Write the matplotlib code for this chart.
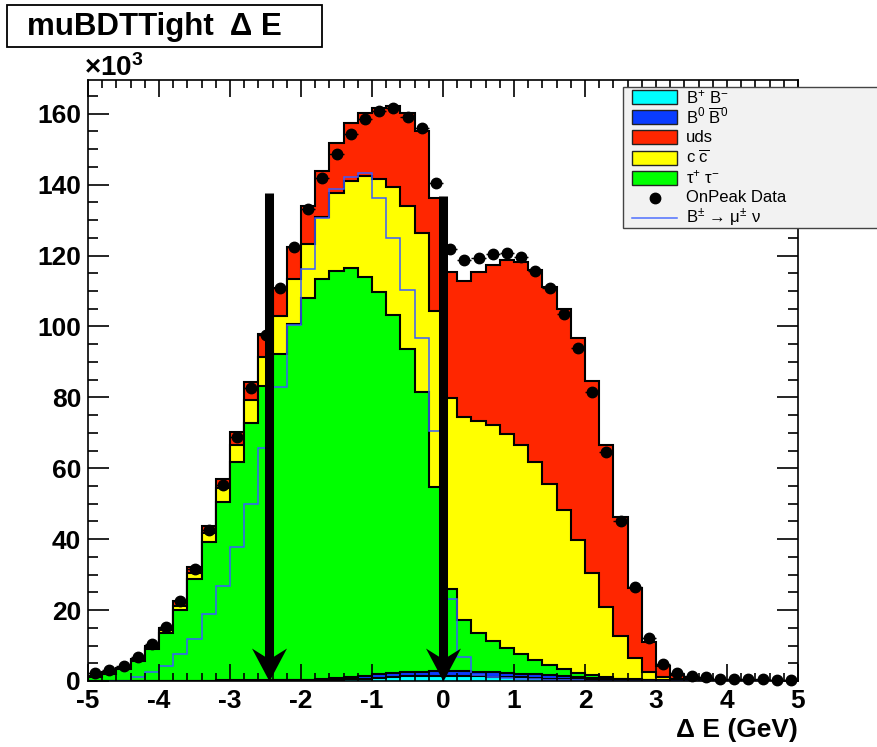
import numpy as np
import matplotlib
matplotlib.use("Agg")
import matplotlib.pyplot as plt
from matplotlib.patches import Rectangle
from matplotlib.lines import Line2D
from matplotlib.path import Path
from matplotlib.ticker import MultipleLocator

# ------------------------------------------------------------------
# muBDTTight selection, Delta E distribution (units of 10^3 events)
# 50 bins of 0.2 GeV between -5 and 5 GeV
# ------------------------------------------------------------------
DE_MIN, DE_MAX, N_BINS = -5.0, 5.0, 50

# stack components, bottom to top
bb_charged = [0.0, 0.0, 0.0, 0.0, 0.02, 0.03, 0.04, 0.05, 0.06, 0.07, 0.08, 0.10,
              0.12, 0.15, 0.18, 0.20, 0.30, 0.40, 0.50, 0.65, 0.90, 1.10, 1.30, 1.40, 1.50,
              1.50, 1.50, 1.40, 1.20, 1.10, 1.00, 0.80, 0.70, 0.60, 0.50, 0.40, 0.30, 0.20,
              0.15, 0.10, 0.05, 0.03, 0.02, 0.01, 0.01, 0.01, 0.0, 0.0, 0.0, 0.0]
bb_neutral = [0.0, 0.0, 0.0, 0.02, 0.02, 0.03, 0.04, 0.05, 0.06, 0.08, 0.10, 0.10,
              0.13, 0.15, 0.17, 0.20, 0.30, 0.45, 0.60, 0.85, 1.00, 1.10, 1.20, 1.20, 1.30,
              1.40, 1.30, 1.20, 1.30, 1.20, 1.10, 1.10, 0.90, 0.70, 0.60, 0.50, 0.40, 0.30,
              0.20, 0.10, 0.07, 0.05, 0.03, 0.02, 0.02, 0.02, 0.01, 0.01, 0.01, 0.01]
tautau = [1.2, 2.1, 3.4, 5.5, 8.9, 13.6, 19.9, 28.6, 39.0, 50.3, 61.5, 72.7,
          83.0, 92.0, 100.2, 107.6, 112.7, 114.9, 115.3, 112.4, 107.7, 101.0, 91.1, 79.0, 51.9,
          23.0, 14.4, 10.9, 8.9, 6.9, 5.6, 4.1, 3.0, 2.1, 1.2, 0.7, 0.4, 0.2,
          0.15, 0.10, 0.08, 0.05, 0.03, 0.02, 0.02, 0.01, 0.01, 0.01, 0.01, 0.01]
ccbar = [0.1, 0.2, 0.2, 0.4, 0.5, 0.6, 1.3, 1.9, 2.7, 4.0, 5.0, 6.4,
         8.2, 10.6, 12.7, 15.3, 17.7, 21.9, 24.5, 28.4, 31.9, 36.0, 40.4, 44.7, 49.7,
         53.9, 57.2, 59.8, 60.8, 60.6, 58.9, 55.7, 50.9, 44.7, 37.5, 28.8, 19.9, 11.9,
         5.9, 2.3, 0.8, 0.3, 0.1, 0.05, 0.03, 0.02, 0.01, 0.01, 0.01, 0.01]
uds = [0.1, 0.2, 0.2, 0.4, 0.4, 0.8, 1.2, 1.5, 2.0, 2.4, 3.6, 5.0,
       6.3, 8.0, 9.2, 10.7, 12.7, 14.1, 16.4, 17.9, 20.2, 23.1, 26.2, 28.9, 31.8,
       35.5, 38.5, 42.0, 45.2, 48.8, 51.6, 54.1, 55.7, 56.8, 57.0, 54.2, 45.7, 33.7,
       19.9, 8.3, 3.1, 1.2, 0.6, 0.4, 0.25, 0.15, 0.10, 0.08, 0.06, 0.05]

onpeak = [2.2, 3.1, 4.3, 6.9, 10.3, 15.3, 22.5, 31.5, 42.5, 55.2, 68.8, 82.6,
          97.7, 110.9, 122.4, 133.1, 142.0, 148.7, 154.3, 158.6, 160.7, 161.5, 159.2, 156.1, 140.4,
          121.8, 118.8, 119.4, 120.4, 120.8, 119.6, 115.7, 110.8, 103.5, 93.8, 81.6, 64.5, 45.0,
          26.4, 12.1, 4.9, 2.2, 1.4, 1.0, 0.7, 0.6, 0.5, 0.5, 0.4, 0.4]

# B -> mu nu signal, arbitrary normalisation
signal = [0.0, 0.0, 0.1, 1.0, 2.4, 4.3, 7.5, 11.8, 18.8, 26.8, 37.8, 49.9,
          65.6, 82.9, 100.5, 116.3, 130.5, 138.7, 142.2, 143.2, 136.1, 124.8, 110.3, 96.6, 70.4,
          23.0, 6.8, 1.8, 1.2, 0.9, 0.7, 0.5, 0.4, 0.3, 0.2, 0.1, 0.1, 0.05,
          0.0, 0.0, 0.0, 0.0, 0.0, 0.0, 0.0, 0.0, 0.0, 0.0, 0.0, 0.0]

# signal window cuts drawn as arrows
cut_values = [-2.45, 0.0]
cut_arrow_tops = [137.6, 136.8]

C_CYAN, C_BLUE, C_GREEN, C_YELLOW, C_RED = "#00ffff", "#0a3cff", "#00ff00", "#ffff00", "#ff2600"
C_SIG = "#3a5cff"

plt.rcParams["font.family"] = ["Liberation Sans", "DejaVu Sans"]
plt.rcParams["mathtext.fontset"] = "custom"
plt.rcParams["mathtext.rm"] = "Liberation Sans"
plt.rcParams["mathtext.it"] = "Liberation Sans:italic"
plt.rcParams["mathtext.bf"] = "Liberation Sans:bold"
plt.rcParams["axes.unicode_minus"] = False

W, H = 877, 747


def fx(px):
    return px / W


def fy(py):
    return 1 - py / H


fig = plt.figure(figsize=(W / 100, H / 100), dpi=100)
ax = fig.add_axes([fx(88), fy(681), fx(798) - fx(88), fy(80) - fy(681)])

edges = np.linspace(DE_MIN, DE_MAX, N_BINS + 1)
centers = 0.5 * (edges[1:] + edges[:-1])

components = np.vstack([bb_charged, bb_neutral, tautau, ccbar, uds])
colors = [C_CYAN, C_BLUE, C_GREEN, C_YELLOW, C_RED]
tops = np.cumsum(components, axis=0)

# THStack style: draw the cumulative histograms from the top down
for top, col in reversed(list(zip(tops, colors))):
    ax.stairs(top, edges, baseline=0, fill=True, facecolor=col,
              edgecolor="black", linewidth=1.5)

ax.stairs(signal, edges, baseline=None, color=C_SIG, linewidth=1.1)

data = np.array(onpeak)
ax.errorbar(centers, data, xerr=0.1, yerr=np.sqrt(data * 1000) / 1000,
            fmt="o", color="black", ms=7.5, elinewidth=1.0, capsize=0,
            zorder=5, clip_on=False)

# arrows marking the Delta E cut
head = Path([(0, 0), (-17.5, 33), (0, 22), (17.5, 33), (0, 0)],
            [Path.MOVETO, Path.LINETO, Path.LINETO, Path.LINETO, Path.CLOSEPOLY])
for xc, yt in zip(cut_values, cut_arrow_tops):
    ax.plot([xc, xc], [yt, 5.6], color="black", lw=6.5, solid_capstyle="butt", zorder=6)
    ax.plot([xc], [0], marker=head, ms=47.5, color="black", mew=0, ls="none",
            zorder=6, clip_on=False)

ax.set_xlim(DE_MIN, DE_MAX)
ax.set_ylim(0, 169.5)
ax.xaxis.set_major_locator(MultipleLocator(1))
ax.xaxis.set_minor_locator(MultipleLocator(0.2))
ax.yaxis.set_major_locator(MultipleLocator(20))
ax.yaxis.set_minor_locator(MultipleLocator(5))
ax.tick_params(which="both", direction="in", top=True, right=True, width=1.2)
ax.tick_params(axis="x", which="major", length=12, pad=6)
ax.tick_params(axis="x", which="minor", length=6)
ax.tick_params(axis="y", which="major", length=15, pad=5)
ax.tick_params(axis="y", which="minor", length=7.5)
for lab in ax.get_xticklabels() + ax.get_yticklabels():
    lab.set_fontsize(19)
    lab.set_fontweight("bold")
for sp in ax.spines.values():
    sp.set_linewidth(1.2)

ax.set_xlabel("Δ E (GeV)", loc="right", fontsize=19, fontweight="bold", labelpad=3)
fig.text(fx(84), fy(76), "×10$^{\\mathbf{3}}$", fontsize=20, fontweight="bold", va="baseline")

# title box
fig.patches.append(Rectangle((fx(7), fy(47)), fx(322) - fx(7), fy(5) - fy(47),
                             transform=fig.transFigure, facecolor="white",
                             edgecolor="black", lw=1.3))
fig.text(fx(27), fy(27), "muBDTTight  Δ E", fontsize=22.5, fontweight="bold",
         va="center", ha="left")

# legend box
fig.patches.append(Rectangle((fx(623), fy(228)), fx(880) - fx(623), fy(87) - fy(228),
                             transform=fig.transFigure, facecolor="#f2f2f2",
                             edgecolor="#444444", lw=1.0, zorder=10))
legend_labels = ["B$^{+}$ B$^{-}$", "B$^{0}$ $\\overline{\\mathrm{B}}^{0}$", "uds",
                 "c $\\overline{\\mathrm{c}}$", "τ$^{+}$ τ$^{-}$", "OnPeak Data",
                 "B$^{\\pm}$ → μ$^{\\pm}$ ν"]
legend_fills = [C_CYAN, C_BLUE, C_RED, C_YELLOW, C_GREEN]
for i, lab in enumerate(legend_labels):
    yc = 97 + 20.2 * i
    if i < len(legend_fills):
        fig.patches.append(Rectangle((fx(632), fy(yc + 7)), fx(677) - fx(632), fy(yc - 7) - fy(yc + 7),
                                     transform=fig.transFigure, facecolor=legend_fills[i],
                                     edgecolor="#222222", lw=1.0, zorder=11))
    elif lab == "OnPeak Data":
        fig.lines.append(Line2D([fx(654.5)], [fy(yc)], marker="o", ms=7.5, color="black",
                                transform=fig.transFigure, zorder=11))
    else:
        fig.lines.append(Line2D([fx(632), fx(677)], [fy(yc), fy(yc)], color="#5070ff", lw=1.1,
                                transform=fig.transFigure, zorder=11))
    fig.text(fx(686), fy(yc), lab, fontsize=12, va="center", ha="left", zorder=12)

fig.savefig("out.png", dpi=100)
